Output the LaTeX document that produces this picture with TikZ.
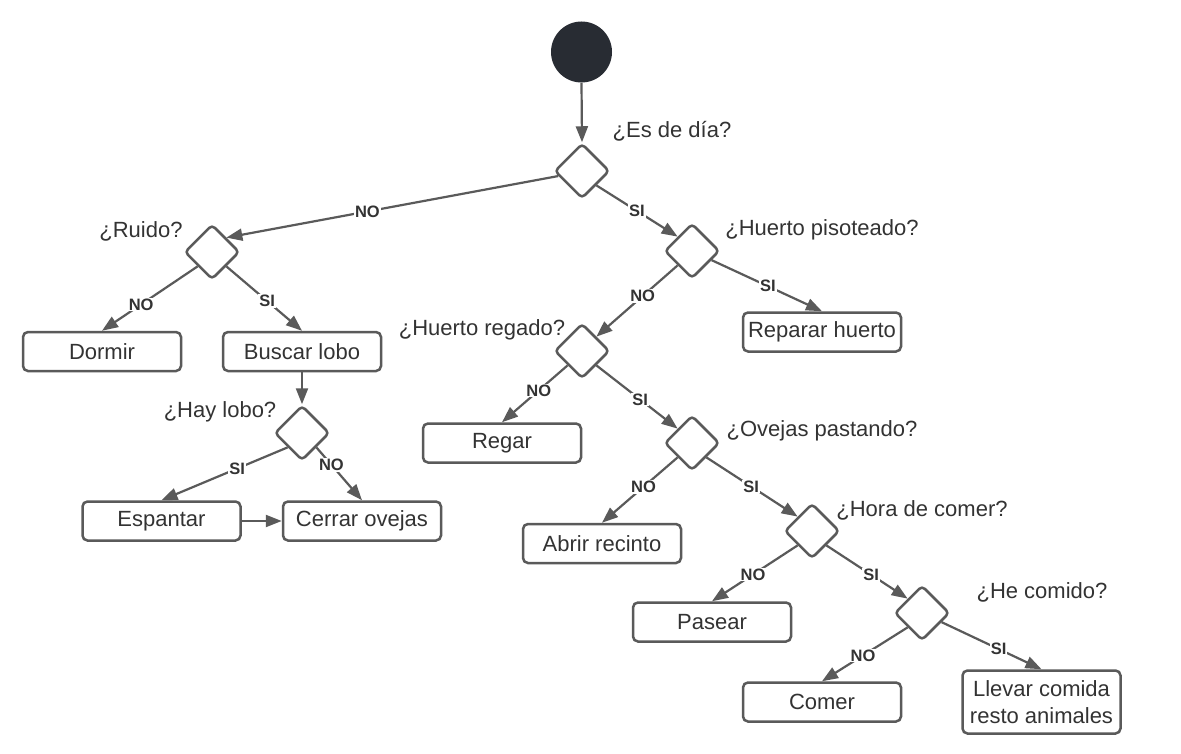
\documentclass[tikz,border=0pt]{standalone}
\usepackage{fontspec}
\setmainfont{Liberation Sans}
\usetikzlibrary{shapes.geometric,arrows.meta}
\definecolor{ln}{HTML}{5A5A5A}
\definecolor{tx}{HTML}{333333}
\definecolor{startc}{HTML}{282C33}
\begin{document}
\begin{tikzpicture}[x=1pt,y=-1pt,
  box/.style={draw=ln,line width=2.5pt,rounded corners=5pt,minimum width=158pt,minimum height=39pt,inner sep=2pt,text=tx,font=\fontsize{22}{25}\selectfont,fill=white},
  dec/.style={diamond,draw=ln,line width=2.5pt,rounded corners=4pt,minimum width=55pt,minimum height=55pt,inner sep=0pt,fill=white},
  qtext/.style={text=tx,font=\fontsize{22}{25}\selectfont,inner sep=0pt},
  lbl/.style={fill=white,text=tx,font=\bfseries\fontsize{16.5}{18}\selectfont,inner sep=1pt},
  con/.style={draw=ln,line width=2.2pt,-{Triangle[length=16pt,width=12pt]}}
]
\useasboundingbox[fill=white] (0,0) rectangle (1181,754);

% start
\node[circle,fill=startc,minimum size=61pt,inner sep=0pt] (start) at (581.5,52) {};

% decisions
\node[dec] (d1) at (582,171) {};
\node[dec] (d2) at (212,252) {};
\node[dec] (d3) at (692,251) {};
\node[dec] (d4) at (302,433) {};
\node[dec] (d5) at (582,351) {};
\node[dec] (d6) at (692,443) {};
\node[dec] (d7) at (812,531) {};
\node[dec] (d8) at (922,613) {};

% question texts
\node[qtext] (q1) at (672,131) {¿Es de día?};
\node[qtext] (q2) at (141,231) {¿Ruido?};
\node[qtext] (q3) at (822,230) {¿Huerto pisoteado?};
\node[qtext] (q4) at (220,412) {¿Hay lobo?};
\node[qtext] (q5) at (482,330) {¿Huerto regado?};
\node[qtext] (q6) at (822,431) {¿Ovejas pastando?};
\node[qtext] (q7) at (922,510) {¿Hora de comer?};
\node[qtext] (q8) at (1042,592) {¿He comido?};

% actions
\node[box] (dormir) at (102,351.5) {Dormir};
\node[box] (buscar) at (302,351.5) {Buscar lobo};
\node[box] (espantar) at (161.5,521) {Espantar};
\node[box] (cerrar) at (362,521) {Cerrar ovejas};
\node[box] (reparar) at (822,332) {Reparar huerto};
\node[box] (regar) at (502,443) {Regar};
\node[box] (abrir) at (602,543.5) {Abrir recinto};
\node[box] (pasear) at (712,622) {Pasear};
\node[box] (comer) at (822,702) {Comer};
\node[box,minimum height=63pt,align=center,font=\fontsize{22}{27}\selectfont] (llevar) at (1041.5,702) {Llevar comida\\resto animales};

% connectors
\draw[con] (start.south) -- (d1.north);
\draw[con] (d1.192) -- node[lbl,pos=0.575] (l1) {NO} (d2.north east);
\draw[con] (d1.south east) -- node[lbl,pos=0.5] (l2) {SI} (d3.north west);
\draw[con] (d2.south west) -- node[lbl,pos=0.59] (l3) {NO} (dormir.north);
\draw[con] (d2.south east) -- node[lbl,pos=0.54] (l4) {SI} (buscar.north);
\draw[con] (buscar.south) -- (d4.north);
\draw[con] (d4.south west) -- node[lbl,pos=0.4] (l5) {SI} (espantar.north);
\draw[con] (d4.south east) -- node[lbl,pos=0.33] (l6) {NO} (cerrar.north);
\draw[con] (espantar.east) -- (cerrar.west);
\draw[con] (d3.south west) -- node[lbl,pos=0.43] (l7) {NO} (d5.north east);
\draw[con] (d3.-25) -- node[lbl,pos=0.51] (l8) {SI} (reparar.north);
\draw[con] (d5.south west) -- node[lbl,pos=0.44] (l9) {NO} (regar.north);
\draw[con] (d5.south east) -- node[lbl,pos=0.54] (l10) {SI} (d6.north west);
\draw[con] (d6.south west) -- node[lbl,pos=0.45] (l11) {NO} (abrir.north);
\draw[con] (d6.south east) -- node[lbl,pos=0.49] (l12) {SI} (d7.north west);
\draw[con] (d7.south west) -- node[lbl,pos=0.52] (l13) {NO} (pasear.north);
\draw[con] (d7.south east) -- node[lbl,pos=0.55] (l14) {SI} (d8.north west);
\draw[con] (d8.south west) -- node[lbl,pos=0.52] (l15) {NO} (comer.north);
\draw[con] (d8.-25) -- node[lbl,pos=0.57] (l16) {SI} (llevar.north);
\end{tikzpicture}
\end{document}
